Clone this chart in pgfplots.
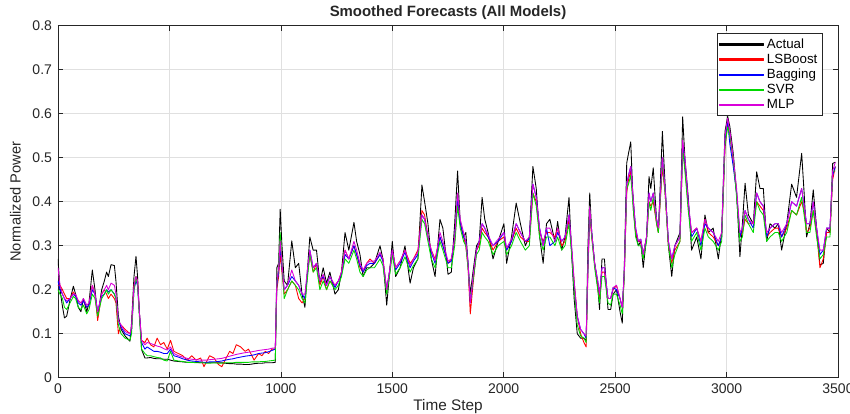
\documentclass[border=0pt]{standalone}
\usepackage{pgfplots}
\usepackage{pgfplotstable}
\pgfplotsset{compat=1.18}
\usepackage{fontspec}
\setmainfont{Liberation Sans}
\definecolor{axgray}{rgb}{0.15,0.15,0.15}
\definecolor{gridgray}{rgb}{0.88,0.88,0.88}
\definecolor{mblack}{rgb}{0,0,0}
\definecolor{mred}{rgb}{1,0,0}
\definecolor{mblue}{rgb}{0,0,1}
\definecolor{mgreen}{rgb}{0,0.85,0}
\definecolor{mmag}{rgb}{0.85,0,0.85}
\pgfplotstableread{
x A L B S M
0 0.27 0.21 0.22 0.20 0.25
9 0.20 0.21 0.20 0.19 0.21
20 0.162 0.20 0.19 0.18 0.19
29 0.136 0.19 0.18 0.16 0.18
39 0.14 0.18 0.17 0.155 0.175
54 0.177 0.18 0.18 0.17 0.18
69 0.208 0.195 0.19 0.185 0.19
79 0.19 0.185 0.185 0.18 0.19
91 0.16 0.175 0.17 0.16 0.175
103 0.15 0.17 0.165 0.155 0.17
114 0.18 0.175 0.175 0.165 0.18
129 0.15 0.16 0.16 0.145 0.165
139 0.17 0.165 0.165 0.155 0.17
154 0.245 0.21 0.20 0.19 0.21
166 0.20 0.19 0.19 0.18 0.19
178 0.14 0.13 0.15 0.14 0.15
196 0.20 0.19 0.185 0.18 0.19
208 0.22 0.20 0.19 0.19 0.20
218 0.24 0.19 0.20 0.20 0.21
226 0.23 0.18 0.195 0.19 0.20
238 0.257 0.19 0.20 0.20 0.215
253 0.255 0.18 0.19 0.19 0.21
260 0.22 0.17 0.18 0.18 0.19
271 0.14 0.10 0.13 0.12 0.13
283 0.11 0.12 0.115 0.10 0.12
301 0.095 0.11 0.10 0.09 0.105
323 0.083 0.10 0.095 0.085 0.10
330 0.125 0.11 0.11 0.10 0.115
341 0.23 0.21 0.20 0.20 0.21
350 0.276 0.23 0.22 0.23 0.23
357 0.23 0.22 0.21 0.21 0.22
365 0.15 0.15 0.15 0.14 0.15
375 0.064 0.085 0.08 0.065 0.085
390 0.045 0.08 0.065 0.055 0.075
400 0.045 0.09 0.07 0.05 0.08
415 0.046 0.075 0.065 0.05 0.078
430 0.044 0.07 0.06 0.048 0.075
445 0.043 0.09 0.06 0.046 0.072
460 0.043 0.075 0.058 0.045 0.07
475 0.042 0.08 0.055 0.04 0.066
490 0.042 0.065 0.055 0.038 0.063
505 0.04 0.085 0.065 0.06 0.07
520 0.038 0.06 0.05 0.04 0.055
540 0.037 0.055 0.047 0.038 0.05
560 0.036 0.05 0.043 0.037 0.047
580 0.035 0.04 0.04 0.035 0.044
600 0.035 0.05 0.038 0.035 0.042
620 0.035 0.04 0.037 0.034 0.041
640 0.034 0.045 0.036 0.034 0.04
655 0.034 0.025 0.035 0.034 0.04
665 0.034 0.035 0.035 0.033 0.04
680 0.034 0.05 0.036 0.033 0.041
700 0.034 0.045 0.036 0.034 0.042
720 0.034 0.03 0.037 0.033 0.043
735 0.034 0.025 0.038 0.033 0.044
750 0.033 0.04 0.04 0.034 0.046
770 0.032 0.06 0.042 0.034 0.049
785 0.032 0.055 0.043 0.034 0.051
800 0.031 0.075 0.045 0.035 0.053
820 0.031 0.07 0.047 0.035 0.055
840 0.03 0.06 0.049 0.035 0.057
855 0.03 0.065 0.05 0.035 0.058
870 0.031 0.05 0.051 0.036 0.059
880 0.032 0.04 0.052 0.036 0.06
900 0.033 0.055 0.055 0.036 0.062
915 0.033 0.05 0.056 0.037 0.063
930 0.034 0.06 0.057 0.037 0.064
945 0.034 0.055 0.059 0.038 0.065
960 0.034 0.065 0.062 0.039 0.067
975 0.035 0.065 0.065 0.04 0.068
982 0.25 0.20 0.21 0.22 0.22
990 0.26 0.23 0.24 0.25 0.25
997 0.383 0.28 0.30 0.33 0.31
1005 0.30 0.24 0.25 0.26 0.26
1015 0.22 0.19 0.20 0.18 0.20
1030 0.21 0.20 0.21 0.20 0.21
1049 0.311 0.22 0.23 0.22 0.245
1065 0.25 0.21 0.22 0.21 0.22
1080 0.26 0.18 0.21 0.20 0.21
1095 0.19 0.17 0.19 0.18 0.19
1108 0.16 0.18 0.18 0.17 0.19
1120 0.25 0.24 0.24 0.23 0.25
1130 0.32 0.28 0.29 0.28 0.29
1145 0.29 0.24 0.25 0.24 0.25
1160 0.29 0.26 0.26 0.25 0.26
1175 0.215 0.21 0.22 0.20 0.22
1190 0.25 0.23 0.23 0.22 0.235
1205 0.215 0.20 0.21 0.20 0.21
1220 0.24 0.22 0.23 0.22 0.23
1243 0.19 0.21 0.205 0.20 0.21
1258 0.20 0.22 0.22 0.21 0.22
1272 0.24 0.24 0.235 0.23 0.24
1288 0.33 0.29 0.28 0.27 0.29
1305 0.29 0.27 0.27 0.26 0.27
1328 0.353 0.30 0.30 0.29 0.31
1340 0.31 0.28 0.28 0.27 0.29
1355 0.28 0.25 0.255 0.24 0.26
1369 0.23 0.24 0.24 0.23 0.245
1385 0.25 0.26 0.255 0.245 0.26
1400 0.25 0.27 0.26 0.25 0.265
1420 0.26 0.26 0.26 0.25 0.265
1445 0.30 0.28 0.28 0.27 0.285
1458 0.27 0.27 0.265 0.255 0.27
1475 0.165 0.20 0.20 0.19 0.20
1490 0.25 0.25 0.25 0.24 0.25
1500 0.31 0.29 0.29 0.28 0.29
1515 0.23 0.25 0.245 0.235 0.25
1535 0.25 0.265 0.26 0.25 0.265
1557 0.30 0.29 0.285 0.275 0.29
1580 0.215 0.26 0.25 0.24 0.255
1595 0.25 0.27 0.265 0.255 0.27
1615 0.27 0.29 0.28 0.27 0.285
1633 0.438 0.38 0.37 0.36 0.37
1645 0.40 0.37 0.36 0.35 0.36
1660 0.35 0.32 0.32 0.31 0.32
1675 0.27 0.29 0.285 0.27 0.29
1692 0.23 0.27 0.26 0.25 0.265
1714 0.36 0.32 0.32 0.31 0.33
1727 0.34 0.30 0.30 0.29 0.31
1745 0.26 0.27 0.27 0.26 0.275
1750 0.235 0.26 0.26 0.25 0.265
1765 0.24 0.27 0.265 0.25 0.27
1780 0.35 0.31 0.32 0.30 0.32
1793 0.47 0.40 0.41 0.39 0.42
1805 0.35 0.35 0.35 0.34 0.36
1820 0.32 0.32 0.32 0.31 0.33
1830 0.33 0.30 0.31 0.30 0.31
1840 0.26 0.25 0.26 0.25 0.26
1850 0.19 0.145 0.17 0.18 0.17
1862 0.24 0.21 0.22 0.22 0.23
1878 0.30 0.29 0.29 0.28 0.29
1890 0.31 0.30 0.31 0.29 0.31
1903 0.41 0.34 0.35 0.33 0.35
1915 0.36 0.33 0.34 0.32 0.34
1930 0.33 0.32 0.32 0.31 0.325
1952 0.27 0.29 0.30 0.28 0.30
1975 0.31 0.31 0.31 0.30 0.315
2001 0.35 0.32 0.33 0.31 0.33
2013 0.26 0.29 0.29 0.28 0.295
2035 0.32 0.31 0.31 0.30 0.315
2056 0.397 0.34 0.35 0.33 0.35
2075 0.35 0.32 0.33 0.31 0.33
2097 0.30 0.31 0.31 0.29 0.31
2115 0.32 0.31 0.315 0.30 0.32
2131 0.48 0.42 0.44 0.42 0.44
2146 0.43 0.40 0.41 0.39 0.41
2161 0.32 0.33 0.34 0.32 0.34
2177 0.26 0.31 0.30 0.29 0.30
2192 0.35 0.33 0.34 0.32 0.34
2207 0.36 0.33 0.30 0.32 0.34
2230 0.31 0.32 0.31 0.30 0.31
2242 0.355 0.34 0.33 0.32 0.34
2260 0.29 0.30 0.31 0.29 0.31
2275 0.32 0.31 0.32 0.30 0.32
2293 0.41 0.36 0.37 0.35 0.37
2305 0.28 0.29 0.29 0.28 0.30
2316 0.18 0.22 0.21 0.20 0.22
2330 0.10 0.14 0.14 0.12 0.14
2345 0.09 0.10 0.11 0.095 0.11
2360 0.09 0.08 0.10 0.09 0.10
2370 0.085 0.07 0.09 0.08 0.095
2378 0.30 0.24 0.25 0.26 0.26
2386 0.42 0.37 0.38 0.39 0.39
2395 0.33 0.32 0.33 0.32 0.33
2408 0.26 0.26 0.26 0.25 0.26
2422 0.207 0.21 0.22 0.20 0.22
2430 0.155 0.18 0.19 0.17 0.19
2441 0.27 0.24 0.25 0.23 0.25
2452 0.27 0.24 0.25 0.23 0.25
2468 0.155 0.18 0.18 0.17 0.18
2480 0.155 0.18 0.18 0.165 0.18
2491 0.19 0.20 0.205 0.19 0.205
2506 0.20 0.21 0.20 0.19 0.21
2522 0.15 0.18 0.18 0.165 0.18
2532 0.124 0.16 0.16 0.145 0.16
2541 0.25 0.23 0.24 0.23 0.24
2552 0.488 0.42 0.44 0.43 0.44
2560 0.51 0.45 0.46 0.44 0.46
2570 0.536 0.47 0.48 0.46 0.48
2582 0.38 0.40 0.40 0.38 0.40
2592 0.33 0.33 0.34 0.32 0.34
2604 0.30 0.31 0.31 0.30 0.31
2615 0.31 0.31 0.315 0.30 0.315
2626 0.25 0.28 0.28 0.27 0.28
2641 0.32 0.32 0.32 0.31 0.32
2652 0.457 0.40 0.42 0.40 0.42
2660 0.43 0.39 0.40 0.38 0.40
2671 0.477 0.40 0.42 0.41 0.42
2686 0.358 0.35 0.36 0.35 0.36
2694 0.33 0.33 0.34 0.33 0.34
2712 0.56 0.48 0.50 0.49 0.50
2724 0.44 0.42 0.43 0.42 0.43
2739 0.30 0.30 0.31 0.30 0.31
2754 0.23 0.26 0.27 0.25 0.27
2768 0.30 0.29 0.30 0.28 0.30
2791 0.33 0.31 0.32 0.31 0.32
2803 0.593 0.52 0.53 0.52 0.54
2813 0.50 0.48 0.49 0.47 0.50
2828 0.41 0.39 0.40 0.38 0.40
2843 0.29 0.33 0.32 0.31 0.33
2866 0.32 0.34 0.34 0.33 0.34
2885 0.27 0.31 0.30 0.29 0.31
2903 0.37 0.36 0.35 0.34 0.36
2918 0.33 0.33 0.34 0.32 0.34
2940 0.34 0.32 0.33 0.31 0.33
2963 0.27 0.30 0.30 0.29 0.31
2978 0.33 0.32 0.32 0.31 0.33
2993 0.56 0.52 0.54 0.53 0.55
3005 0.594 0.58 0.58 0.57 0.59
3015 0.57 0.55 0.53 0.55 0.56
3030 0.51 0.49 0.48 0.50 0.50
3045 0.42 0.42 0.42 0.41 0.43
3060 0.275 0.32 0.32 0.31 0.33
3071 0.35 0.33 0.34 0.32 0.34
3083 0.442 0.36 0.38 0.37 0.38
3098 0.37 0.35 0.36 0.35 0.36
3120 0.35 0.35 0.34 0.33 0.35
3135 0.468 0.40 0.42 0.40 0.42
3150 0.43 0.39 0.40 0.38 0.40
3165 0.43 0.38 0.39 0.37 0.39
3180 0.31 0.32 0.32 0.31 0.33
3195 0.35 0.33 0.34 0.32 0.34
3217 0.34 0.34 0.35 0.33 0.35
3232 0.35 0.34 0.35 0.33 0.35
3247 0.29 0.32 0.32 0.31 0.33
3270 0.35 0.34 0.35 0.33 0.35
3292 0.44 0.38 0.40 0.38 0.40
3314 0.41 0.37 0.39 0.37 0.39
3337 0.51 0.40 0.43 0.41 0.43
3348 0.42 0.38 0.39 0.37 0.39
3359 0.32 0.33 0.35 0.33 0.35
3374 0.35 0.34 0.35 0.33 0.35
3389 0.427 0.38 0.40 0.38 0.40
3404 0.34 0.33 0.34 0.32 0.34
3419 0.256 0.25 0.28 0.27 0.29
3434 0.26 0.27 0.29 0.28 0.29
3449 0.34 0.33 0.34 0.32 0.34
3464 0.33 0.33 0.34 0.32 0.34
3476 0.487 0.45 0.46 0.47 0.47
3488 0.49 0.48 0.48 0.47 0.49
}\data
\begin{document}
\begin{tikzpicture}
\useasboundingbox (-43.5pt,-27.2pt) rectangle (594pt,283.3pt);
\begin{axis}[
  scale only axis,
  width=585pt, height=264pt,
  at={(0,0)}, anchor=south west,
  xmin=0, xmax=3500, ymin=0, ymax=0.8,
  xtick={0,500,...,3500},
  ytick={0,0.1,...,0.8},
  yticklabels={0,0.1,0.2,0.3,0.4,0.5,0.6,0.7,0.8},
  /pgf/number format/assume math mode=true,
  /pgf/number format/set thousands separator={},
  tick label style={font=\fontsize{10.5}{12}\selectfont, text=axgray},
  xticklabel style={yshift=-1pt},
  yticklabel style={xshift=-1pt},
  tick align=inside,
  major tick length=4pt,
  tick style={axgray, line width=0.5pt},
  axis line style={axgray, line width=0.6pt},
  grid=major,
  major grid style={gridgray, line width=0.5pt},
  title={\fontsize{11.2}{13}\selectfont\bfseries Smoothed Forecasts (All Models)},
  title style={yshift=-5pt, text=axgray},
  xlabel={\fontsize{11.5}{13}\selectfont Time Step},
  ylabel={\fontsize{11}{13}\selectfont Normalized Power},
  xlabel style={yshift=2.5pt, text=axgray},
  ylabel style={yshift=2pt, text=axgray},
  legend style={at={(0.98,0.978)}, anchor=north east, draw=axgray, line width=0.5pt,
    font=\fontsize{10}{11.5}\selectfont, fill=white, inner sep=1.5pt,
    row sep=-1.2pt, cells={anchor=west}},
  legend cell align=left,
  every axis plot/.append style={line width=0.65pt, line join=round},
]
\addplot[draw=mblack, forget plot] table[x=x, y=A] {\data};
\addplot[draw=mred, forget plot] table[x=x, y=L] {\data};
\addplot[draw=mblue, forget plot] table[x=x, y=B] {\data};
\addplot[draw=mgreen, forget plot] table[x=x, y=S] {\data};
\addplot[draw=mmag, forget plot] table[x=x, y=M] {\data};
\addlegendimage{legend image code/.code={\fill[mblack] (0pt,-0.55pt) rectangle (33pt,0.55pt);}}
\addlegendentry{Actual}
\addlegendimage{legend image code/.code={\fill[mred] (0pt,-0.55pt) rectangle (33pt,0.55pt);}}
\addlegendentry{LSBoost}
\addlegendimage{legend image code/.code={\fill[mblue] (0pt,-0.55pt) rectangle (33pt,0.55pt);}}
\addlegendentry{Bagging}
\addlegendimage{legend image code/.code={\fill[mgreen] (0pt,-0.55pt) rectangle (33pt,0.55pt);}}
\addlegendentry{SVR}
\addlegendimage{legend image code/.code={\fill[mmag] (0pt,-0.55pt) rectangle (33pt,0.55pt);}}
\addlegendentry{MLP}
\end{axis}
\end{tikzpicture}
\end{document}
